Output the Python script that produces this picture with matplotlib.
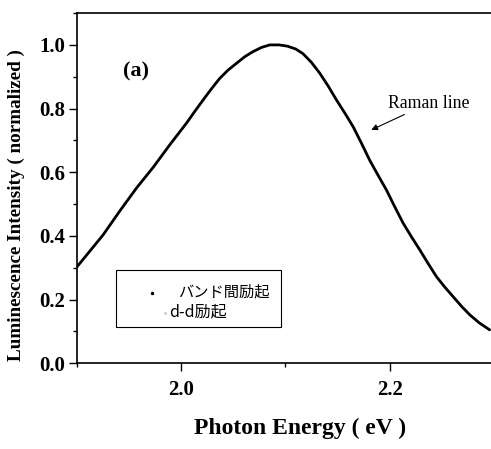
import matplotlib.pyplot as plt
from matplotlib.patches import Rectangle
from matplotlib.ticker import MultipleLocator

# luminescence spectrum, normalized to the peak
energy = [1.900, 1.913, 1.925, 1.941, 1.957, 1.973, 1.989, 2.005, 2.013, 2.021,
          2.029, 2.037, 2.045, 2.053, 2.061, 2.069, 2.077, 2.085, 2.094, 2.102,
          2.110, 2.117, 2.125, 2.133, 2.141, 2.149, 2.157, 2.165, 2.173, 2.181,
          2.189, 2.197, 2.205, 2.213, 2.221, 2.229, 2.237, 2.245, 2.253, 2.261,
          2.269, 2.277, 2.286, 2.296]
intensity = [0.303, 0.355, 0.403, 0.478, 0.550, 0.615, 0.686, 0.754, 0.791, 0.827,
             0.862, 0.895, 0.921, 0.942, 0.963, 0.979, 0.992, 1.000, 1.000, 0.996,
             0.987, 0.972, 0.945, 0.911, 0.871, 0.827, 0.786, 0.743, 0.691, 0.637,
             0.590, 0.544, 0.491, 0.440, 0.397, 0.356, 0.313, 0.272, 0.239, 0.209,
             0.179, 0.152, 0.127, 0.105]

legend_labels = ['バンド間励起', 'd-d励起']
raman_tip = (2.1824, 0.733)
raman_text = (2.1984, 0.790)

serif = 'Liberation Serif'
cjk = ['Noto Sans CJK JP', 'DejaVu Sans']

fig = plt.figure(figsize=(4.91, 4.49), dpi=100)
ax = fig.add_axes([0.1568, 0.1909, 0.9084, 0.780])

ax.plot(energy, intensity, color='black', lw=2.0, solid_joinstyle='round',
        solid_capstyle='round')

ax.set_xlim(1.9, 2.328)
ax.set_ylim(0, 1.1)
ax.xaxis.set_major_locator(MultipleLocator(0.2))
ax.xaxis.set_minor_locator(MultipleLocator(0.1))
ax.yaxis.set_major_locator(MultipleLocator(0.2))
ax.yaxis.set_minor_locator(MultipleLocator(0.1))
ax.xaxis.set_major_formatter(plt.FormatStrFormatter('%.1f'))
ax.yaxis.set_major_formatter(plt.FormatStrFormatter('%.1f'))

for s in ('left', 'bottom', 'top'):
    ax.spines[s].set_linewidth(1.2)
ax.spines['right'].set_visible(False)

ax.tick_params(which='both', direction='out', width=1.0, top=False, right=False)
ax.tick_params(which='major', length=6)
ax.tick_params(which='minor', length=3)
ax.tick_params(axis='y', pad=2.5)
ax.tick_params(axis='x', pad=6)
for lab in ax.get_xticklabels() + ax.get_yticklabels():
    lab.set_fontfamily(serif)
    lab.set_fontweight('bold')
    lab.set_fontsize(15)

ax.set_xlabel('Photon Energy ( eV )', fontfamily=serif, fontweight='bold', fontsize=17)
ax.set_ylabel('Luminescence Intensity ( normalized )', fontfamily=serif,
              fontweight='bold', fontsize=13.8)
ax.xaxis.set_label_coords(0.5, -0.156)
ax.yaxis.set_label_coords(-0.1166, 0.453)

ax.text(0.132, 0.834, '(a)', transform=ax.transAxes, ha='center', va='center',
        fontfamily=serif, fontweight='bold', fontsize=16)

ax.annotate('Raman line', xy=raman_tip, xytext=raman_text,
            fontfamily=serif, fontsize=12.8, ha='left', va='bottom',
            arrowprops=dict(arrowstyle='-|>', color='black', lw=0.8,
                            mutation_scale=9, shrinkA=0, shrinkB=0))

# legend box drawn by hand
ax.add_patch(Rectangle((0.0874, 0.1036), 0.3696, 0.1624, transform=ax.transAxes,
                       fill=False, edgecolor='black', lw=0.8))
ax.plot([0.1675], [0.2007], marker='.', ms=3, color='black', transform=ax.transAxes)
ax.plot([0.197], [0.1427], marker='.', ms=2, color='#c8c8c8', transform=ax.transAxes)
ax.text(0.2265, 0.2035, legend_labels[0], transform=ax.transAxes, ha='left',
        va='center', family=cjk, fontsize=11)
ax.text(0.2063, 0.1464, legend_labels[1], transform=ax.transAxes, ha='left',
        va='center', family=cjk, fontsize=11.5)

fig.savefig('out.png', dpi=100)
plt.close(fig)
